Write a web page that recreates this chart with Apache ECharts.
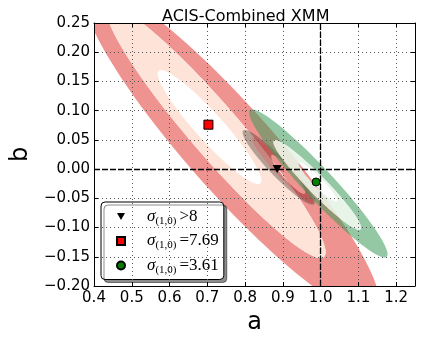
<!DOCTYPE html>
<html>
<head>
<meta charset="utf-8">
<script src="https://cdn.jsdelivr.net/npm/echarts@6/dist/echarts.min.js"></script>
<style>
  html, body { margin: 0; padding: 0; background: #fff; }
  #main { width: 425px; height: 348px; }
</style>
</head>
<body>
<div id="main"></div>
<script>
// 坐标范围和参考线
const aRange = [0.4, 1.25];
const bRange = [-0.2, 0.25];
const refA = 1.0;
const refB = 0.0;

// 最佳拟合点
const pointLabels = ['>8', '=7.69', '=3.61'];
const pointA = [0.885, 0.703, 0.988];
const pointB = [0.0, 0.076, -0.022];

// 置信椭圆: 中心 + P*cos(t) + Q*sin(t), P/Q 为共轭半径 (由外到内)
const redCenter = [[0.765, 0.0325], [0.7236, 0.0633], [0.7059, 0.0719]];
const redP = [[0.3618, -0.2823], [0.2762, -0.2156], [0.1284, -0.0975]];
const redQ = [[0.1496, 0], [0.0874, 0], [0.0485, 0]];

const darkCenter = [[0.889, 0.003], [0.899, -0.002], [0.914, -0.009]];
const darkP = [[0.094, -0.063], [0.081, -0.056], [0.044, -0.033]];
const darkQ = [[-0.0175, -0.0109], [-0.0134, -0.0081], [-0.0102, -0.0057]];

const greenCenter = [[0.994, -0.0245], [0.991, -0.027], [0.993, -0.022]];
const greenP = [[0.181, -0.1255], [0.115, -0.076], [0.0505, -0.033]];
const greenQ = [[-0.0291, -0.0175], [-0.0176, -0.0111], [-0.0087, -0.0056]];

// 椭圆轮廓点 (数据坐标 -> 像素坐标)
function ellipsePts(api, c, p, q, reverse) {
  const n = 120;
  let pts = [];
  for (let k = 0; k <= n; k++) {
    const th = (reverse ? -1 : 1) * 2 * Math.PI * k / n;
    const ct = Math.cos(th), st = Math.sin(th);
    pts.push(api.coord([c[0] + p[0] * ct + q[0] * st, c[1] + p[1] * ct + q[1] * st]));
  }
  return pts;
}

// 每一层是一个环: 外椭圆减去内椭圆
function ringData(centers, ps, qs) {
  let rows = [];
  for (let i = 0; i < centers.length - 1; i++) {
    rows.push([centers[i][0], centers[i][1], ps[i][0], ps[i][1], qs[i][0], qs[i][1],
               centers[i + 1][0], centers[i + 1][1], ps[i + 1][0], ps[i + 1][1], qs[i + 1][0], qs[i + 1][1]]);
  }
  return rows;
}

function ringSeries(centers, ps, qs, colors, z) {
  return {
    type: 'custom',
    coordinateSystem: 'cartesian2d',
    clip: true,
    silent: true,
    z: z,
    data: ringData(centers, ps, qs),
    encode: { x: 0, y: 1 },
    renderItem: function (params, api) {
      const v = [];
      for (let k = 0; k < 12; k++) v.push(api.value(k));
      const outer = ellipsePts(api, [v[0], v[1]], [v[2], v[3]], [v[4], v[5]], false);
      const inner = ellipsePts(api, [v[6], v[7]], [v[8], v[9]], [v[10], v[11]], true);
      return {
        type: 'polygon',
        shape: { points: outer.concat(inner) },
        style: { fill: colors[params.dataIndex], stroke: null }
      };
    }
  };
}

let chartDom = document.getElementById('main');
let mychart = echarts.init(chartDom, null, { renderer: 'canvas' });

const labelFont = 'DejaVu Sans';
const mathFont = 'Liberation Serif';
const pointSymbols = ['path://M0,0L10,0L5,9Z', 'rect', 'circle'];
const pointColors = ['#000000', '#ff0000', '#007f00'];
const pointSizes = [[9, 8], 9, 8];

let pointSeries = pointLabels.map(function (lab, i) {
  return {
    name: 'σ(1,0)' + lab,
    type: 'scatter',
    z: 10,
    symbol: pointSymbols[i],
    symbolSize: pointSizes[i],
    itemStyle: { color: pointColors[i], borderColor: '#000', borderWidth: i === 0 ? 0 : 1, opacity: 1 },
    data: [[pointA[i], pointB[i]]]
  };
});

let option = {
  animation: false,
  title: {
    text: 'ACIS-Combined XMM',
    left: 162,
    top: 9,
    padding: 0,
    textStyle: { fontFamily: labelFont, fontSize: 16, fontWeight: 'normal', color: '#000' }
  },
  grid: { left: 94, right: 10, top: 23, bottom: 62 },
  legend: {
    orient: 'vertical',
    left: 101,
    top: 202,
    padding: [6, 5, 4, 15],
    itemWidth: 8,
    itemHeight: 8,
    itemGap: 6,
    backgroundColor: '#fff',
    borderColor: '#000',
    borderWidth: 1,
    borderRadius: 4,
    shadowColor: 'rgba(0,0,0,0.45)',
    shadowOffsetX: 3,
    shadowOffsetY: 3,
    shadowBlur: 0,
    data: pointLabels.map(function (lab, i) {
      return { name: 'σ(1,0)' + lab, icon: pointSymbols[i] };
    }),
    formatter: function (name) {
      return '{s|σ}{sub|(1,0)}{t|' + name.slice(6) + '}';
    },
    textStyle: {
      color: '#000',
      rich: {
        s: { fontFamily: mathFont, fontStyle: 'italic', fontSize: 17, color: '#000', padding: [0, 0, 0, 17] },
        sub: { fontFamily: mathFont, fontSize: 11, color: '#000', padding: [9, 3, 0, 0] },
        t: { fontFamily: mathFont, fontSize: 17, color: '#000' }
      }
    }
  },
  xAxis: [
    {
      type: 'value', min: aRange[0], max: aRange[1], interval: 0.1, position: 'bottom', z: 4,
      name: 'a', nameLocation: 'middle', nameGap: 24,
      nameTextStyle: { fontFamily: labelFont, fontSize: 24, color: '#000' },
      axisLine: { onZero: false, lineStyle: { color: '#000', width: 1 } },
      axisTick: { inside: true, length: 4, lineStyle: { color: '#000' } },
      axisLabel: { fontFamily: labelFont, fontSize: 15, color: '#000', margin: 5, showMaxLabel: false,
        formatter: function (v) { return v.toFixed(1); } },
      splitLine: { show: true, lineStyle: { color: '#555', width: 1, type: [1, 3] } }
    },
    {
      type: 'value', min: aRange[0], max: aRange[1], interval: 0.1, position: 'top', z: 4,
      axisLine: { onZero: false, lineStyle: { color: '#000', width: 1 } },
      axisTick: { inside: true, length: 4, lineStyle: { color: '#000' } },
      axisLabel: { show: false },
      splitLine: { show: false }
    }
  ],
  yAxis: [
    {
      type: 'value', min: bRange[0], max: bRange[1], interval: 0.05, position: 'left', z: 4,
      name: 'b', nameLocation: 'middle', nameGap: 52, nameRotate: 90,
      nameTextStyle: { fontFamily: labelFont, fontSize: 24, color: '#000' },
      axisLine: { onZero: false, lineStyle: { color: '#000', width: 1 } },
      axisTick: { inside: true, length: 4, lineStyle: { color: '#000' } },
      axisLabel: { fontFamily: labelFont, fontSize: 15, color: '#000', margin: 4,
        formatter: function (v) { return v.toFixed(2).replace('-', '\u2212'); } },
      splitLine: { show: true, lineStyle: { color: '#555', width: 1, type: [1, 3] } }
    },
    {
      type: 'value', min: bRange[0], max: bRange[1], interval: 0.05, position: 'right', z: 4,
      axisLine: { onZero: false, lineStyle: { color: '#000', width: 1 } },
      axisTick: { inside: true, length: 4, lineStyle: { color: '#000' } },
      axisLabel: { show: false },
      splitLine: { show: false }
    }
  ],
  series: [
    ringSeries(redCenter, redP, redQ, ['#ef9390', '#fde3d8'], 1),
    ringSeries(darkCenter, darkP, darkQ, ['rgba(70,60,50,0.4)', 'rgba(130,20,20,0.45)'], 1),
    ringSeries(greenCenter, greenP, greenQ, ['rgba(60,155,90,0.55)', 'rgba(228,243,228,0.9)'], 1),
    {
      type: 'scatter',
      data: [],
      z: 6,
      markLine: {
        silent: true,
        symbol: 'none',
        label: { show: false },
        lineStyle: { color: '#000', width: 1.3, type: [6, 2] },
        data: [{ xAxis: refA }, { yAxis: refB }]
      }
    }
  ].concat(pointSeries)
};

option && mychart.setOption(option);
</script>
</body>
</html>
